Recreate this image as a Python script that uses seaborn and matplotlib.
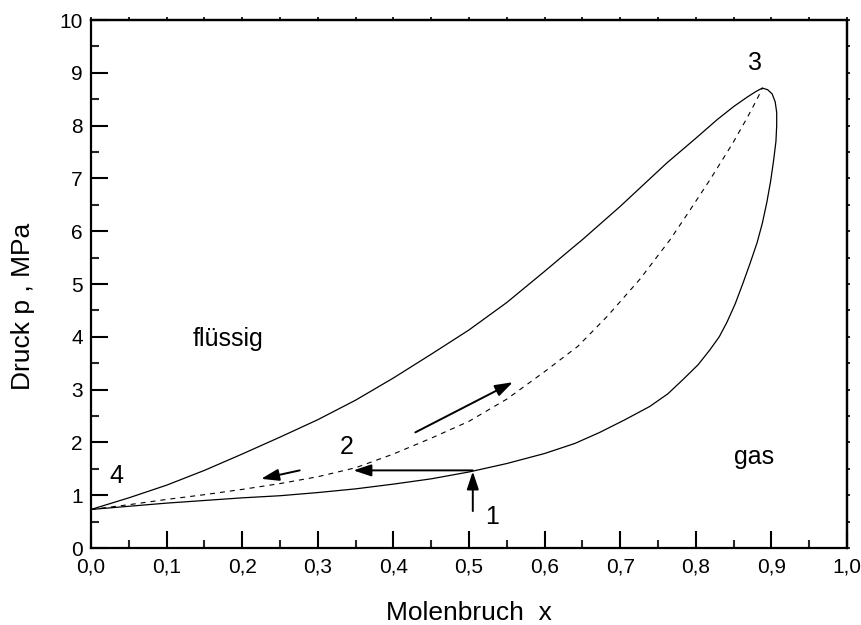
import matplotlib
matplotlib.use("Agg")
import matplotlib.pyplot as plt
import seaborn as sns
import pandas as pd
from matplotlib.ticker import MultipleLocator, FuncFormatter, NullFormatter

sns.set_theme(style="ticks")
plt.rcParams['font.family'] = ['Liberation Sans', 'DejaVu Sans']

# Siedelinie (upper solid curve)
bubble_x = [0.0, 0.05, 0.1, 0.15, 0.2, 0.25, 0.3, 0.35, 0.4, 0.45, 0.5, 0.55, 0.6, 0.634, 0.65, 0.7, 0.7615, 0.8, 0.828, 0.85, 0.868, 0.88, 0.888]
bubble_p = [0.73, 0.95, 1.19, 1.47, 1.78, 2.10, 2.43, 2.80, 3.22, 3.67, 4.13, 4.65, 5.24, 5.65, 5.84, 6.47, 7.29, 7.76, 8.11, 8.36, 8.54, 8.65, 8.71]

# Taulinie (lower solid curve, returns to critical point)
dew_x = [0.0, 0.05, 0.1, 0.15, 0.2, 0.25, 0.3, 0.35, 0.4, 0.45, 0.5, 0.55, 0.6, 0.64, 0.673, 0.705, 0.739, 0.763, 0.783, 0.803, 0.819, 0.831, 0.841, 0.852, 0.862, 0.872, 0.881, 0.888, 0.894, 0.899, 0.903, 0.906, 0.907, 0.907, 0.905, 0.901, 0.895, 0.888]
dew_p = [0.73, 0.79, 0.85, 0.90, 0.95, 0.99, 1.05, 1.12, 1.21, 1.31, 1.44, 1.60, 1.79, 1.98, 2.19, 2.42, 2.68, 2.92, 3.19, 3.47, 3.76, 4.00, 4.27, 4.62, 5.00, 5.40, 5.78, 6.15, 6.55, 6.95, 7.35, 7.70, 8.00, 8.25, 8.45, 8.60, 8.68, 8.71]

# Weg (dashed curve)
path_x = [0.0, 0.05, 0.1, 0.15, 0.2, 0.25, 0.3, 0.35, 0.4, 0.45, 0.5, 0.55, 0.6, 0.644, 0.683, 0.726, 0.766, 0.79, 0.819, 0.849, 0.868, 0.881, 0.888]
path_p = [0.73, 0.82, 0.92, 1.01, 1.11, 1.22, 1.35, 1.52, 1.78, 2.08, 2.40, 2.82, 3.34, 3.82, 4.39, 5.09, 5.84, 6.35, 6.98, 7.67, 8.15, 8.50, 8.71]

x_ticks = [0.0, 0.1, 0.2, 0.3, 0.4, 0.5, 0.6, 0.7, 0.8, 0.9, 1.0]
y_ticks = [0, 1, 2, 3, 4, 5, 6, 7, 8, 9, 10]

labels = ["1", "2", "3", "4", "flüssig", "gas"]
label_x = [0.53, 0.338, 0.878, 0.034, 0.181, 0.877]
label_p = [0.59, 1.91, 9.19, 1.36, 3.95, 1.72]

arrow_from_x = [0.505, 0.505, 0.429, 0.276]
arrow_from_p = [0.70, 1.47, 2.19, 1.47]
arrow_to_x = [0.505, 0.347, 0.558, 0.225]
arrow_to_p = [1.45, 1.47, 3.14, 1.31]

fig = plt.figure(figsize=(8.62, 6.25), dpi=100)
ax = fig.add_axes([0.1056, 0.1232, 0.877, 0.8448])

df_b = pd.DataFrame({"x": bubble_x, "p": bubble_p})
df_d = pd.DataFrame({"x": dew_x, "p": dew_p})
df_w = pd.DataFrame({"x": path_x, "p": path_p})

sns.lineplot(data=df_b, x="x", y="p", sort=False, estimator=None, color="black", lw=0.9, ax=ax)
sns.lineplot(data=df_d, x="x", y="p", sort=False, estimator=None, color="black", lw=0.9, ax=ax)
sns.lineplot(data=df_w, x="x", y="p", sort=False, estimator=None, color="black", lw=0.8, ax=ax)
ax.lines[-1].set_dashes([4.5, 4.5])
for ln in ax.lines:
    ln.set_solid_joinstyle("round")

for x0, p0, x1, p1 in zip(arrow_from_x, arrow_from_p, arrow_to_x, arrow_to_p):
    ax.annotate("", xy=(x1, p1), xytext=(x0, p0),
                arrowprops=dict(arrowstyle="-|>,head_length=0.9,head_width=0.3",
                                color="black", lw=1.4, shrinkA=0, shrinkB=0))

for t, x, p in zip(labels, label_x, label_p):
    ax.text(x, p, t, fontsize=18, ha="center", va="center", color="black")

ax.set_xlim(0, 1.0)
ax.set_ylim(0, 10)
ax.set_xticks(x_ticks)
ax.set_yticks(y_ticks)
ax.xaxis.set_minor_locator(MultipleLocator(0.05))
ax.yaxis.set_minor_locator(MultipleLocator(0.5))
ax.xaxis.set_major_formatter(FuncFormatter(lambda v, pos: f"{v:.1f}".replace(".", ",")))
ax.yaxis.set_major_formatter(FuncFormatter(lambda v, pos: f"{int(round(v))}"))

ax.tick_params(which="major", direction="in", length=12, width=1.5, labelsize=15,
               colors="black", pad=6, top=False, right=False)
ax.tick_params(which="minor", direction="in", length=6, width=1.5, top=False, right=False)
ax.tick_params(axis="x", which="major", pad=7)

# tiny outward ticks on the top and right frame
sec_x = ax.secondary_xaxis("top")
sec_x.set_xticks(x_ticks)
sec_x.xaxis.set_minor_locator(MultipleLocator(0.05))
sec_x.xaxis.set_major_formatter(NullFormatter())
sec_x.tick_params(which="both", direction="out", length=2, width=1.2, colors="black")
sec_y = ax.secondary_yaxis("right")
sec_y.set_yticks(y_ticks)
sec_y.yaxis.set_minor_locator(MultipleLocator(0.5))
sec_y.yaxis.set_major_formatter(NullFormatter())
sec_y.tick_params(which="both", direction="out", length=2, width=1.2, colors="black")
for sec in (sec_x, sec_y):
    for s in sec.spines.values():
        s.set_linewidth(1.6)
        s.set_color("black")

for s in ax.spines.values():
    s.set_linewidth(1.6)
    s.set_color("black")

ax.set_xlabel("Molenbruch  x", fontsize=19, color="black")
ax.xaxis.set_label_coords(0.5, -0.100)
ax.set_ylabel("Druck p , MPa", fontsize=19, color="black")
ax.yaxis.set_label_coords(-0.074, 0.458)

fig.savefig("out.png", dpi=100, facecolor="white")
